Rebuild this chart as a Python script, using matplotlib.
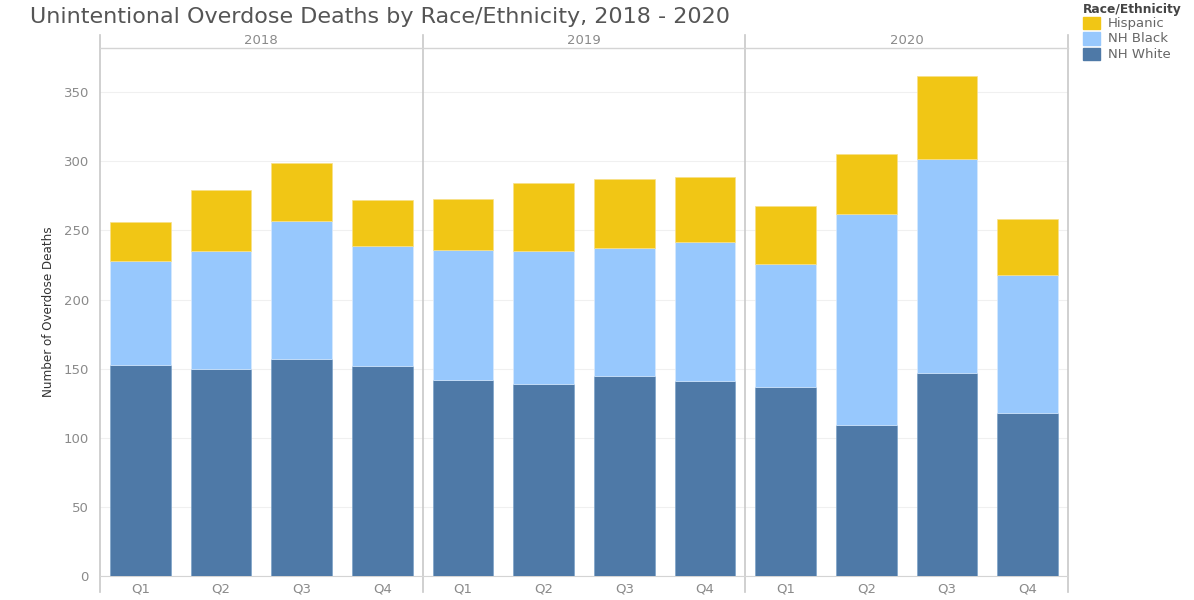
import matplotlib.pyplot as plt
import numpy as np

years = ["2018", "2019", "2020"]
quarters = ["Q1", "Q2", "Q3", "Q4"]

# stacked values per quarter (2018 Q1 .. 2020 Q4)
nh_white = [153, 150, 157, 152, 142, 139, 145, 141, 137, 109, 147, 118]
nh_black = [75, 85, 100, 87, 94, 96, 92, 101, 89, 153, 155, 100]
hispanic = [28, 44, 42, 33, 37, 49, 50, 47, 42, 43, 60, 40]

c_white = "#4E79A7"
c_black = "#97C8FD"
c_hisp = "#F1C615"

fig = plt.figure(figsize=(11.94, 6), dpi=100)
W, H = 1194, 600
ax = fig.add_axes([100 / W, (H - 576) / H, 968 / W, (576 - 48) / H])

x = np.arange(len(nh_white))
w = 0.75
white = np.array(nh_white)
black = np.array(nh_black)
hisp = np.array(hispanic)
ax.bar(x, white, w, color=c_white, edgecolor="#7da3c8", linewidth=0.5, zorder=3)
ax.bar(x, black, w, bottom=white, color=c_black, edgecolor="#d6e9fe", linewidth=0.5, zorder=3)
ax.bar(x, hisp, w, bottom=white + black, color=c_hisp, edgecolor="#f7e08a", linewidth=0.5, zorder=3)

ax.set_xlim(-0.5, len(x) - 0.5)
ax.set_ylim(0, 382)
ax.set_yticks(range(0, 351, 50))
ax.set_xticks(x)
ax.set_xticklabels(quarters * len(years))
ax.tick_params(axis="both", length=0, colors="#8a8a8a", labelsize=9.5)
ax.tick_params(axis="x", pad=5)
ax.tick_params(axis="y", pad=8)
ax.yaxis.grid(True, color="#f0f0f0", linewidth=0.8, zorder=0)
for s in ["top", "right", "left"]:
    ax.spines[s].set_visible(False)
ax.spines["bottom"].set_color("#d4d4d4")

# panel frame lines and year header
tr = ax.get_xaxis_transform()
y_top = (576 - 35) / 528
y_bot = (576 - 592) / 528
for xv in [-0.5, 3.5, 7.5, 11.5]:
    ax.plot([xv, xv], [y_bot, y_top], transform=tr, color="#c8c8c8", lw=1.2, clip_on=False)
ax.plot([-0.5, 11.5], [1, 1], transform=tr, color="#d4d4d4", lw=1, clip_on=False)
for i, yr in enumerate(years):
    ax.text(i * 4 + 1.5, (576 - 41) / 528, yr, transform=tr, ha="center", va="center",
            fontsize=9.5, color="#8a8a8a")

ax.set_ylabel("Number of Overdose Deaths", fontsize=9.5, color="#333333",
              family="DejaVu Sans", fontstretch="condensed", labelpad=6)

fig.text(30 / W, 1 - 17 / H, "Unintentional Overdose Deaths by Race/Ethnicity, 2018 - 2020",
         fontsize=16, color="#555555", va="center", ha="left")

# legend
fig.text(1083 / W, 1 - 9 / H, "Race/Ethnicity", fontsize=8.8, fontweight="bold",
         color="#444444", va="center")
for i, (lab, col) in enumerate([("Hispanic", c_hisp), ("NH Black", c_black), ("NH White", c_white)]):
    yc = 23 + i * 15.5
    fig.patches.append(plt.Rectangle((1083 / W, 1 - (yc + 6) / H), 17 / W, 12 / H,
                                     transform=fig.transFigure, color=col))
    fig.text(1108 / W, 1 - yc / H, lab, fontsize=9.5, color="#666666", va="center")

fig.savefig("out.png", dpi=100)
